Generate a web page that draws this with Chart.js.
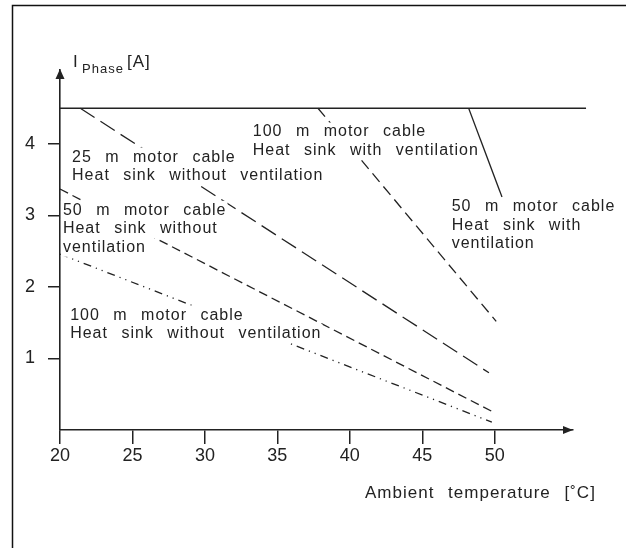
<!DOCTYPE html>
<html><head><meta charset="utf-8">
<script src="https://cdn.jsdelivr.net/npm/chart.js@4/dist/chart.umd.min.js"></script>
<style>html,body{margin:0;padding:0;background:#fff}#wrap{width:626px;height:548px}</style>
</head><body><div id="wrap"><canvas id="c" width="626" height="548"></canvas></div>
<script>
// ---- data (temperature °C, phase current A) ----
const xTickValues = [20, 25, 30, 35, 40, 45, 50];
const yTickValues = [1, 2, 3, 4];
const limitTemp = [20, 56.3];
const limitCurrent = [4.5, 4.5];
const cable25NoVentTemp = [21.4, 49.6];
const cable25NoVentCurrent = [4.5, 0.80];
const cable50NoVentTemp = [20, 50.0];
const cable50NoVentCurrent = [3.37, 0.24];
const cable100NoVentTemp = [20, 49.8];
const cable100NoVentCurrent = [2.46, 0.11];
const cable100VentTemp = [37.8, 50.1];
const cable100VentCurrent = [4.5, 1.52];
const cable50VentTemp = [48.2, 50.5];
const cable50VentCurrent = [4.5, 3.26];
const noteTexts = [
  ['25 m motor cable', 'Heat sink without ventilation'],
  ['50 m motor cable', 'Heat sink without', 'ventilation'],
  ['100 m motor cable', 'Heat sink without ventilation'],
  ['100 m motor cable', 'Heat sink with ventilation'],
  ['50 m motor cable', 'Heat sink with', 'ventilation']
];
const noteTemp = [20.83, 20.2, 20.7, 33.3, 47.03];
const noteCurrent = [3.755, 3.01, 1.545, 4.105, 3.056];
const xTitle = 'Ambient temperature [˚C]';
const yTitleMain = 'I', yTitleSub = 'Phase', yTitleUnit = '[A]';

const INK = '#222';
const FONT = '"Liberation Sans", Arial, Helvetica, sans-serif';
const pts = (xs, ys) => xs.map((x, i) => ({x, y: ys[i]}));
function ds(xs, ys, dash, w) {
  return {data: pts(xs, ys), showLine: true, pointRadius: 0, borderColor: INK,
    borderWidth: w || 1.3, borderDash: dash, fill: false, clip: false, tension: 0};
}

const decor = {
  id: 'decor',
  beforeDraw(chart) {
    const c = chart.ctx;
    c.save();
    c.strokeStyle = '#111'; c.lineWidth = 1.5;
    c.beginPath(); c.moveTo(12.5, 548); c.lineTo(12.5, 5.5); c.lineTo(626, 5.5); c.stroke();
    c.restore();
  },
  afterDraw(chart) {
    const c = chart.ctx, a = chart.chartArea, xs = chart.scales.x, ys = chart.scales.y;
    c.save();
    c.fillStyle = INK;
    // arrowheads
    c.beginPath(); c.moveTo(a.left, a.top - 1); c.lineTo(a.left - 4.5, a.top + 9); c.lineTo(a.left + 4.5, a.top + 9); c.closePath(); c.fill();
    c.beginPath(); c.moveTo(a.right, a.bottom); c.lineTo(a.right - 10, a.bottom - 4); c.lineTo(a.right - 10, a.bottom + 4); c.closePath(); c.fill();
    // notes
    c.font = '16px ' + FONT;
    try { c.letterSpacing = '1px'; c.wordSpacing = '8px'; } catch (e) {}
    c.textBaseline = 'alphabetic'; c.textAlign = 'left';
    noteTexts.forEach((lines, k) => {
      const px = xs.getPixelForValue(noteTemp[k]);
      const py = ys.getPixelForValue(noteCurrent[k]);
      lines.forEach((t, i) => {
        const b = py + i * 18.5;
        const w = c.measureText(t).width;
        c.fillStyle = '#fff';
        c.fillRect(px - 2, b - 14, w + 3, 19);
      });
      c.fillStyle = INK;
      lines.forEach((t, i) => c.fillText(t, px, py + i * 18.5));
    });
    // axis titles
    c.font = '17px ' + FONT;
    c.fillText(xTitle, 365, 498);
    c.fillText(yTitleMain, 73, 67);
    c.font = '13px ' + FONT;
    c.fillText(yTitleSub, 82, 73);
    c.font = '17px ' + FONT;
    c.fillText(yTitleUnit, 127, 67);
    c.restore();
  }
};

new Chart(document.getElementById('c'), {
  type: 'scatter',
  data: {datasets: [
    ds(limitTemp, limitCurrent, [], 1.6),
    ds(cable25NoVentTemp, cable25NoVentCurrent, [17, 7]),
    ds(cable50NoVentTemp, cable50NoVentCurrent, [9, 5]),
    ds(cable100NoVentTemp, cable100NoVentCurrent, [8, 5, 1.2, 5, 1.2, 5]),
    ds(cable100VentTemp, cable100VentCurrent, [11, 6]),
    ds(cable50VentTemp, cable50VentCurrent, [])
  ]},
  options: {
    responsive: false, animation: false, devicePixelRatio: 1,
    layout: {padding: {left: 0, top: 70, right: 53, bottom: 0}},
    plugins: {legend: {display: false}, tooltip: {enabled: false}},
    scales: {
      x: {type: 'linear', min: 20, max: 55.4,
        afterFit: s => { s.height = 118; },
        afterBuildTicks: s => { s.ticks = xTickValues.map(v => ({value: v})); },
        grid: {drawOnChartArea: false, drawTicks: true, tickLength: 14, color: INK, lineWidth: 1.5},
        border: {display: true, color: INK, width: 1.6},
        ticks: {color: INK, font: {family: FONT, size: 18}, padding: 1, maxRotation: 0, autoSkip: false}
      },
      y: {type: 'linear', min: 0, max: 5.035,
        afterFit: s => { s.width = 60; },
        afterBuildTicks: s => { s.ticks = yTickValues.map(v => ({value: v})); },
        grid: {drawOnChartArea: false, drawTicks: true, tickLength: 12, color: INK, lineWidth: 1.5},
        border: {display: true, color: INK, width: 1.6},
        ticks: {color: INK, font: {family: FONT, size: 18}, padding: 13, autoSkip: false}
      }
    }
  },
  plugins: [decor]
});
</script></body></html>
